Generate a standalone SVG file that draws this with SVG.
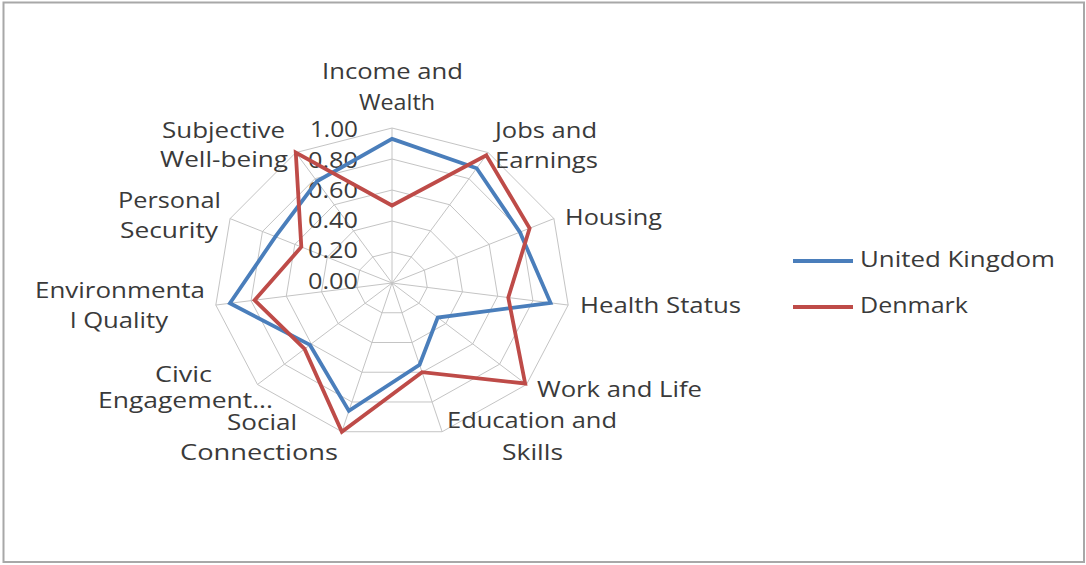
<svg xmlns="http://www.w3.org/2000/svg" width="1086" height="565" viewBox="0 0 1086 565">
<style>
.t{font-family:"Open Sans","Liberation Sans",sans-serif;font-size:21px;fill:#3a3a3a}
.grid{fill:none;stroke:#c4c4c4;stroke-width:1}
.s{fill:none;stroke-width:3.8;stroke-linejoin:miter}
.uk{stroke:#4a7ebb}
.dk{stroke:#be4b48}
</style>
<rect x="0" y="0" width="1086" height="565" fill="#ffffff"/>
<rect x="3.5" y="2.5" width="1080.5" height="559.5" fill="#ffffff" stroke="#a8a8a8" stroke-width="2"/>
<g id="grid">
<polygon class="grid" points="392,128 488.23,152.6 553.91,218.61 568.18,305.06 526.51,384.51 442.14,431.72 341.86,431.72 257.49,384.51 215.82,305.06 230.09,218.61 295.77,152.6"/>
<polygon class="grid" points="392,159 468.98,178.68 521.53,231.49 532.94,300.65 499.61,364.21 432.11,401.98 351.89,401.98 284.39,364.21 251.06,300.65 262.47,231.49 315.02,178.68"/>
<polygon class="grid" points="392,190 449.74,204.76 489.15,244.37 497.71,296.24 472.71,343.91 422.08,372.23 361.92,372.23 311.29,343.91 286.29,296.24 294.85,244.37 334.26,204.76"/>
<polygon class="grid" points="392,221 430.49,230.84 456.76,257.24 462.47,291.82 445.8,323.6 412.06,342.49 371.94,342.49 338.2,323.6 321.53,291.82 327.24,257.24 353.51,230.84"/>
<polygon class="grid" points="392,252 411.25,256.92 424.38,270.12 427.24,287.41 418.9,303.3 402.03,312.74 381.97,312.74 365.1,303.3 356.76,287.41 359.62,270.12 372.75,256.92"/>
<path class="grid" d="M392,283L392,128M392,283L488.23,152.6M392,283L553.91,218.61M392,283L568.18,305.06M392,283L526.51,384.51M392,283L442.14,431.72M392,283L341.86,431.72M392,283L257.49,384.51M392,283L215.82,305.06M392,283L230.09,218.61M392,283L295.77,152.6"/>
</g>
<g id="value-labels">
<text class="t" x="358" y="137" text-anchor="end" textLength="48" lengthAdjust="spacingAndGlyphs">1.00</text>
<text class="t" x="358" y="168" text-anchor="end" textLength="50" lengthAdjust="spacingAndGlyphs">0.80</text>
<text class="t" x="358" y="198" text-anchor="end" textLength="50" lengthAdjust="spacingAndGlyphs">0.60</text>
<text class="t" x="358" y="228" text-anchor="end" textLength="50" lengthAdjust="spacingAndGlyphs">0.40</text>
<text class="t" x="358" y="258" text-anchor="end" textLength="50" lengthAdjust="spacingAndGlyphs">0.20</text>
<text class="t" x="358" y="289" text-anchor="end" textLength="50" lengthAdjust="spacingAndGlyphs">0.00</text>
</g>
<g id="series">
<polygon class="s uk" points="392,138.85 476.68,168.25 519.91,232.13 550.56,302.85 437.73,317.51 419.58,364.8 348.88,410.9 309.95,344.92 229.91,303.3 275.42,236.64 316.94,181.29"/>
<polygon class="s dk" points="392,205.5 486.31,155.21 529.62,228.27 508.28,297.56 525.16,383.49 422.08,372.23 341.86,431.72 304.57,348.98 254.58,300.21 301.33,246.94 295.77,152.6"/>
</g>
<g id="category-labels">
<text class="t" x="322" y="79" textLength="141" lengthAdjust="spacingAndGlyphs">Income and</text>
<text class="t" x="359" y="110" textLength="76" lengthAdjust="spacingAndGlyphs">Wealth</text>
<text class="t" x="495" y="138" textLength="102" lengthAdjust="spacingAndGlyphs">Jobs and</text>
<text class="t" x="495" y="168" textLength="103" lengthAdjust="spacingAndGlyphs">Earnings</text>
<text class="t" x="565" y="225" textLength="97" lengthAdjust="spacingAndGlyphs">Housing</text>
<text class="t" x="580" y="313" textLength="161" lengthAdjust="spacingAndGlyphs">Health Status</text>
<text class="t" x="537" y="397" textLength="165" lengthAdjust="spacingAndGlyphs">Work and Life</text>
<text class="t" x="447" y="428" textLength="170" lengthAdjust="spacingAndGlyphs">Education and</text>
<text class="t" x="502" y="460" textLength="61" lengthAdjust="spacingAndGlyphs">Skills</text>
<text class="t" x="227" y="430" textLength="70" lengthAdjust="spacingAndGlyphs">Social</text>
<text class="t" x="180" y="460" textLength="158" lengthAdjust="spacingAndGlyphs">Connections</text>
<text class="t" x="155" y="382" textLength="57" lengthAdjust="spacingAndGlyphs">Civic</text>
<text class="t" x="98" y="408" textLength="175" lengthAdjust="spacingAndGlyphs">Engagement...</text>
<text class="t" x="35" y="298" textLength="170" lengthAdjust="spacingAndGlyphs">Environmenta</text>
<text class="t" x="70" y="328" textLength="98" lengthAdjust="spacingAndGlyphs">l Quality</text>
<text class="t" x="118" y="208" textLength="103" lengthAdjust="spacingAndGlyphs">Personal</text>
<text class="t" x="120" y="238" textLength="98" lengthAdjust="spacingAndGlyphs">Security</text>
<text class="t" x="162" y="138" textLength="123" lengthAdjust="spacingAndGlyphs">Subjective</text>
<text class="t" x="160" y="167" textLength="128" lengthAdjust="spacingAndGlyphs">Well-being</text>
</g>
<g id="legend">
<line class="s uk" x1="793" y1="261" x2="853" y2="261"/>
<text class="t" x="860" y="267" textLength="195" lengthAdjust="spacingAndGlyphs">United Kingdom</text>
<line class="s dk" x1="793" y1="307" x2="853" y2="307"/>
<text class="t" x="860" y="313" textLength="108" lengthAdjust="spacingAndGlyphs">Denmark</text>
</g>
</svg>
